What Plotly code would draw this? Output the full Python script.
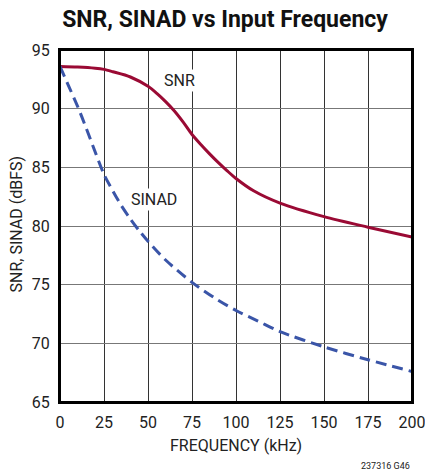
import plotly.graph_objects as go

snr_x = [0, 10, 20, 25, 30, 40, 50, 55, 60, 65, 70, 75, 80, 85, 90, 95, 100, 110, 125, 150, 175, 200]
snr_y = [93.6, 93.55, 93.45, 93.35, 93.15, 92.7, 91.9, 91.3, 90.6, 89.8, 88.85, 87.8, 86.95, 86.15, 85.4, 84.7, 84.05, 83.0, 81.95, 80.8, 79.9, 79.05]

sinad_x = [0, 5, 10, 15, 20, 25, 30, 35, 40, 45, 50, 60, 75, 87.5, 100, 112.5, 125, 150, 175, 200]
sinad_y = [93.6, 91.9, 90.2, 88.3, 86.3, 84.4, 83.0, 81.7, 80.6, 79.6, 78.7, 77.1, 75.2, 73.9, 72.8, 71.9, 71.0, 69.7, 68.6, 67.6]

x_ticks = [0, 25, 50, 75, 100, 125, 150, 175, 200]
y_ticks = [65, 70, 75, 80, 85, 90, 95]

FONT = "Roboto"
H = 476
PLOT_H = 476 - 50 - 74

fig = go.Figure()
fig.add_trace(go.Scatter(x=snr_x, y=snr_y, mode="lines", name="SNR",
                         line=dict(color="#9a0a34", width=3, shape="spline", smoothing=0.8)))
fig.add_trace(go.Scatter(x=sinad_x, y=sinad_y, mode="lines", name="SINAD",
                         line=dict(color="#3a55a8", width=3, shape="spline", smoothing=0.8,
                                   dash="11px,6px")))

fig.add_annotation(x=67.8, y=92.4, text="SNR", showarrow=False, bgcolor="white",
                   font=dict(family=FONT, size=16, color="#222"))
fig.add_annotation(x=53.6, y=82.3, text="SINAD", showarrow=False, bgcolor="white",
                   font=dict(family=FONT, size=16, color="#222"))
# axis titles
fig.add_annotation(xref="paper", yref="paper", x=0.5, y=-(445 - 402) / PLOT_H,
                   xanchor="center", yanchor="middle", text="FREQUENCY (kHz)", showarrow=False,
                   font=dict(family=FONT, size=16, color="#222"))
fig.add_annotation(xref="paper", yref="paper", x=-(60 - 16) / 352, y=0.5 - (224.5 - 226) / PLOT_H,
                   xanchor="center", yanchor="middle", text="SNR, SINAD (dBFS)", showarrow=False,
                   textangle=-90, font=dict(family=FONT, size=16, color="#222"))
fig.add_annotation(xref="paper", yref="paper", x=1.0, y=-(466 - 402) / PLOT_H, xanchor="right",
                   yanchor="middle", text="237316 G46", showarrow=False,
                   font=dict(family=FONT, size=9, color="#222"))

# plot frame
fig.add_shape(type="rect", xref="paper", yref="paper", x0=0, x1=1, y0=0, y1=1,
              line=dict(color="black", width=2), layer="above")

fig.update_layout(
    width=425, height=476,
    margin=dict(l=60, r=13, t=50, b=74),
    paper_bgcolor="white", plot_bgcolor="white",
    showlegend=False,
    font=dict(family=FONT, size=16, color="#222"),
    title=dict(text="<b>SNR, SINAD vs Input Frequency</b>", x=225 / 425, xref="container",
               xanchor="center", y=1 - 19 / 476, yref="container", yanchor="middle",
               font=dict(family=FONT, size=23, color="#111")),
    xaxis=dict(range=[0, 200], tickvals=x_ticks, showgrid=True, gridcolor="#333", gridwidth=1,
               showline=True, linecolor="black", linewidth=2, mirror=True, zeroline=False,
               ticks="", ticklabelstandoff=5, automargin=False, ticklabeloverflow="allow",
               tickfont=dict(family=FONT, size=16, color="#222")),
    yaxis=dict(range=[65, 95], tickvals=y_ticks, showgrid=True, gridcolor="#777", gridwidth=1,
               showline=True, linecolor="black", linewidth=2, mirror=True, zeroline=False,
               ticks="", ticklabelstandoff=5, automargin=False, ticklabeloverflow="allow",
               tickfont=dict(family=FONT, size=16, color="#222")),
)

fig.write_html("out.html", config={"displayModeBar": False},
               post_script="document.body.style.margin='0';document.body.style.overflow='hidden';")
